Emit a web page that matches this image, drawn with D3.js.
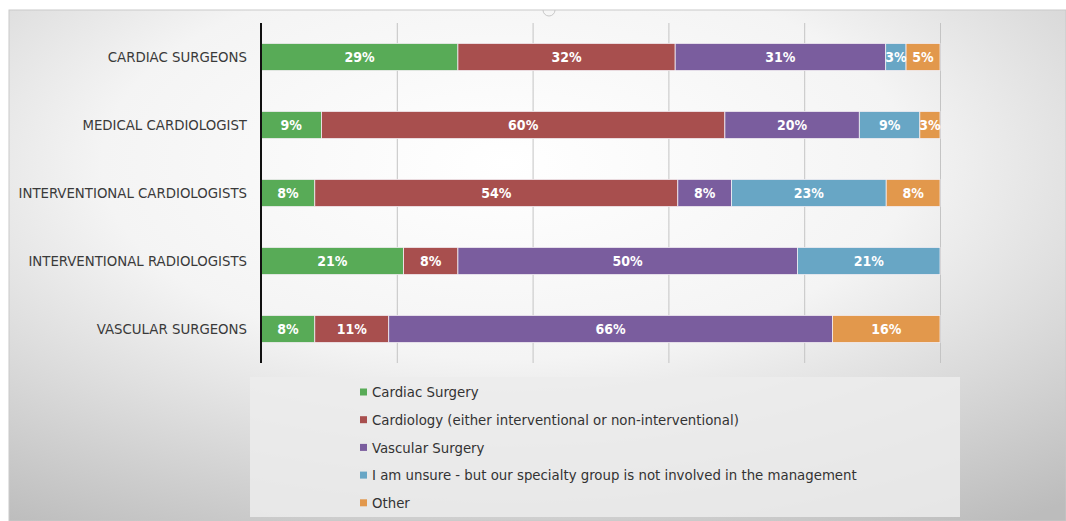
<!DOCTYPE html>
<html>
<head>
<meta charset="utf-8">
<script src="https://cdn.jsdelivr.net/npm/d3@7"></script>
<style>
  body { margin: 0; background: #fff; }
</style>
</head>
<body>
<div id="chart"></div>
<script>
// Data
const categories = [
  "CARDIAC SURGEONS",
  "MEDICAL CARDIOLOGIST",
  "INTERVENTIONAL CARDIOLOGISTS",
  "INTERVENTIONAL RADIOLOGISTS",
  "VASCULAR SURGEONS"
];
const seriesNames = [
  "Cardiac Surgery",
  "Cardiology (either interventional or non-interventional)",
  "Vascular Surgery",
  "I am unsure - but our specialty group is not involved in the management",
  "Other"
];
const cardiacSurgery = [29, 9, 8, 21, 8];
const cardiology = [32, 60, 54, 8, 11];
const vascularSurgery = [31, 20, 8, 50, 66];
const unsure = [3, 9, 23, 21, 0];
const other = [5, 3, 8, 0, 16];
const xTicks = [0, 0.2, 0.4, 0.6, 0.8, 1];

const colors = ["#58ab57", "#a84f4e", "#7a5d9e", "#68a6c5", "#e2984c"];

// Layout
const width = 1066;
const height = 521;
const plotLeft = 261;
const plotRight = 940;
const plotTop = 23;
const plotBottom = 363;
const font = "'Liberation Sans Narrow', 'Arial Narrow', 'DejaVu Sans Condensed', sans-serif";

const keys = d3.range(seriesNames.length);
const values = [cardiacSurgery, cardiology, vascularSurgery, unsure, other];
const rows = categories.map((name, i) => {
  const row = {name};
  keys.forEach(k => row[k] = values[k][i]);
  return row;
});

// 100% stacked (some rows sum to 101)
const stacked = d3.stack()
  .keys(keys)
  .offset(d3.stackOffsetExpand)(rows);

const x = d3.scaleLinear([0, 1], [plotLeft, plotRight]);
const y = d3.scaleBand(categories, [plotTop, plotBottom])
  .paddingInner(0.6)
  .paddingOuter(0.3);

const svg = d3.select("#chart").append("svg")
  .attr("width", width)
  .attr("height", height)
  .attr("viewBox", [0, 0, width, height]);

// slide background
const grad = svg.append("defs").append("radialGradient")
  .attr("id", "bg")
  .attr("cx", 0.47).attr("cy", 0.3).attr("r", 0.85);
grad.append("stop").attr("offset", 0).attr("stop-color", "#ffffff");
grad.append("stop").attr("offset", 0.45).attr("stop-color", "#f4f4f4");
grad.append("stop").attr("offset", 1).attr("stop-color", "#bcbcbc");

svg.append("rect").attr("width", width).attr("height", height).attr("fill", "#fff");
svg.append("rect")
  .attr("x", 9).attr("y", 10)
  .attr("width", width - 9).attr("height", height - 10)
  .attr("fill", "url(#bg)")
  .attr("stroke", "#c9c9c9")
  .attr("stroke-width", 1);
svg.append("path")
  .attr("d", "M543,10 A6,6 0 0 0 555,10")
  .attr("fill", "none")
  .attr("stroke", "#c8c8c8");

// gridlines
svg.append("g")
  .attr("transform", `translate(0,${plotBottom})`)
  .call(d3.axisBottom(x).tickValues(xTicks).tickSize(-(plotBottom - plotTop)).tickFormat(""))
  .call(g => g.select(".domain").remove())
  .call(g => g.selectAll(".tick line").attr("stroke", "#c4c4c4").attr("stroke-width", 1));

// bars
const layer = svg.append("g")
  .selectAll("g")
  .data(stacked)
  .join("g")
  .attr("fill", d => colors[d.key]);

layer.selectAll("rect")
  .data(d => d.filter(p => p[1] - p[0] > 0))
  .join("rect")
  .attr("x", d => x(d[0]))
  .attr("y", d => y(d.data.name))
  .attr("width", d => x(d[1]) - x(d[0]))
  .attr("height", y.bandwidth())
  .attr("stroke", "#f3eef3")
  .attr("stroke-width", 0.8);

// bar labels
svg.append("g")
  .style("font", `bold 14px ${font}`)
  .attr("fill", "#fff")
  .attr("text-anchor", "middle")
  .selectAll("g")
  .data(stacked)
  .join("g")
  .selectAll("text")
  .data(d => d.filter(p => p.data[d.key] > 0).map(p => ({p, v: p.data[d.key]})))
  .join("text")
  .attr("x", d => (x(d.p[0]) + x(d.p[1])) / 2)
  .attr("y", d => y(d.p.data.name) + y.bandwidth() / 2)
  .attr("dy", "0.36em")
  .text(d => d.v + "%");

// category axis
svg.append("g")
  .attr("transform", `translate(${plotLeft},0)`)
  .call(d3.axisLeft(y).tickSize(0).tickPadding(14))
  .call(g => g.select(".domain").attr("stroke", "#111").attr("stroke-width", 2)
    .attr("d", `M0,${plotTop}V${plotBottom}`))
  .call(g => g.selectAll(".tick text")
    .style("font", `14.8px ${font}`)
    .attr("fill", "#3a3a3a"));

// legend
const legend = svg.append("g");
legend.append("rect")
  .attr("x", 250).attr("y", 377)
  .attr("width", 710).attr("height", 140)
  .attr("fill", "#ececec")
  .attr("fill-opacity", 0.85);

const item = legend.selectAll("g")
  .data(seriesNames)
  .join("g")
  .attr("transform", (d, i) => `translate(360,${392 + i * 27.7})`);
item.append("rect")
  .attr("x", 0).attr("y", -3.5)
  .attr("width", 7).attr("height", 7)
  .attr("fill", (d, i) => colors[i]);
item.append("text")
  .attr("x", 12)
  .attr("dy", "0.35em")
  .style("font", `14.8px ${font}`)
  .attr("fill", "#333")
  .text(d => d);
</script>
</body>
</html>
